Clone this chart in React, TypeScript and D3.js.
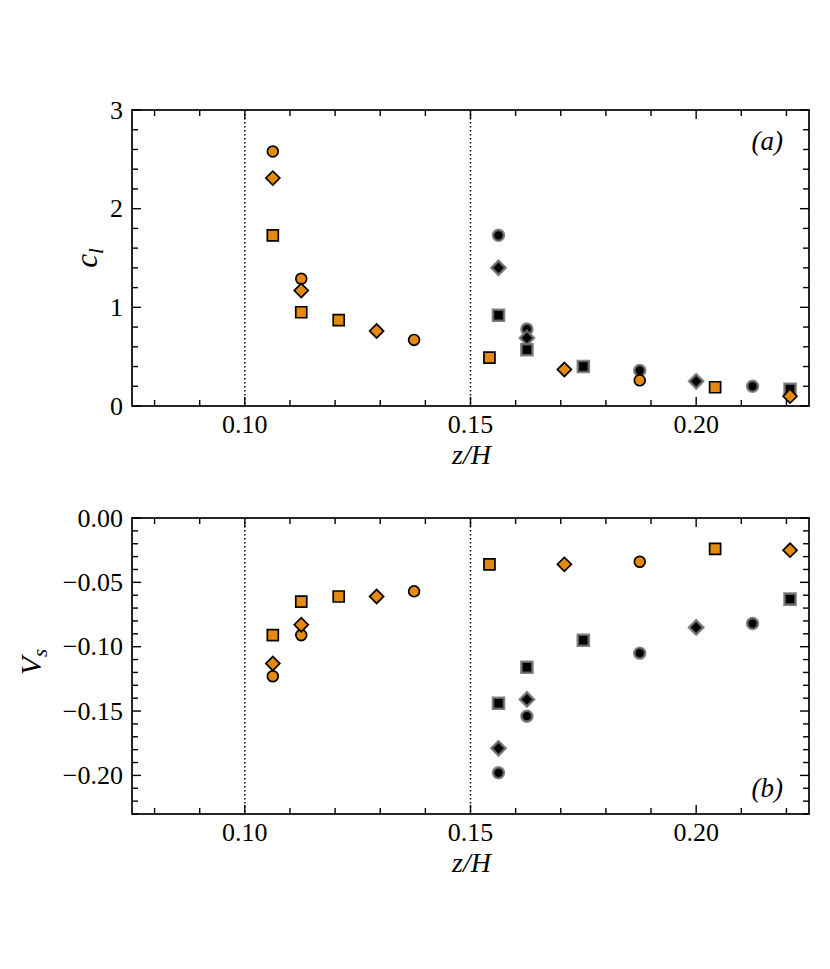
import React, { useRef, useEffect } from 'react'
import * as d3 from 'd3'

// z/H positions of each series
const orangeCircleZ = [0.1062, 0.1125, 0.1375, 0.1875]
const orangeDiamondZ = [0.1062, 0.1125, 0.1292, 0.1708, 0.2208]
const orangeSquareZ = [0.1062, 0.1125, 0.1208, 0.1542, 0.2042]
const blackCircleZ = [0.1562, 0.1625, 0.1875, 0.2125]
const blackDiamondZ = [0.1562, 0.1625, 0.2]
const blackSquareZ = [0.1562, 0.1625, 0.175, 0.2208]

// panel (a): c_l
const orangeCircleCl = [2.58, 1.29, 0.67, 0.26]
const orangeDiamondCl = [2.31, 1.17, 0.76, 0.37, 0.1]
const orangeSquareCl = [1.73, 0.95, 0.87, 0.49, 0.19]
const blackCircleCl = [1.73, 0.78, 0.36, 0.2]
const blackDiamondCl = [1.4, 0.69, 0.25]
const blackSquareCl = [0.92, 0.57, 0.4, 0.17]

// panel (b): V_s
const orangeCircleVs = [-0.123, -0.091, -0.057, -0.034]
const orangeDiamondVs = [-0.113, -0.083, -0.061, -0.036, -0.025]
const orangeSquareVs = [-0.091, -0.065, -0.061, -0.036, -0.024]
const blackCircleVs = [-0.198, -0.154, -0.105, -0.082]
const blackDiamondVs = [-0.179, -0.141, -0.085]
const blackSquareVs = [-0.144, -0.116, -0.095, -0.063]

const xTickLabels = [0.1, 0.15, 0.2]
const clTickLabels = [0, 1, 2, 3]
const vsTickLabels = [0, -0.05, -0.1, -0.15, -0.2]
const dividers = [0.1, 0.15]

type Shape = 'circle' | 'square' | 'diamond'
interface Series { z: number[]; a: number[]; b: number[]; shape: Shape; dark: boolean }

// black drawn first, orange on top
const series: Series[] = [
  { z: blackCircleZ, a: blackCircleCl, b: blackCircleVs, shape: 'circle', dark: true },
  { z: blackDiamondZ, a: blackDiamondCl, b: blackDiamondVs, shape: 'diamond', dark: true },
  { z: blackSquareZ, a: blackSquareCl, b: blackSquareVs, shape: 'square', dark: true },
  { z: orangeCircleZ, a: orangeCircleCl, b: orangeCircleVs, shape: 'circle', dark: false },
  { z: orangeDiamondZ, a: orangeDiamondCl, b: orangeDiamondVs, shape: 'diamond', dark: false },
  { z: orangeSquareZ, a: orangeSquareCl, b: orangeSquareVs, shape: 'square', dark: false },
]

const ORANGE = '#e58a0f'
const FONT = '"Liberation Serif", "Times New Roman", serif'

const App: React.FC = () => {
  const svgRef = useRef<SVGSVGElement>(null)

  useEffect(() => {
    if (!svgRef.current) return
    const svg = d3.select(svgRef.current)
    svg.selectAll('*').remove()

    const left = 132
    const right = 809

    const drawPanel = (
      top: number,
      bottom: number,
      yDomain: [number, number],
      yMajor: number[],
      yMinorStep: number,
      yFmt: (v: number) => string,
      key: 'a' | 'b',
      tag: string,
      tagY: number
    ) => {
      const x = d3.scaleLinear().domain([0.075, 0.225]).range([left, right])
      const y = d3.scaleLinear().domain(yDomain).range([bottom, top])
      const g = svg.append('g')

      // dotted dividers
      dividers.forEach(d => {
        g.append('line')
          .attr('x1', x(d)).attr('x2', x(d))
          .attr('y1', top).attr('y2', bottom)
          .attr('stroke', '#000')
          .attr('stroke-width', 1.5)
          .attr('stroke-dasharray', '1.5,2.5')
      })

      // ticks on all four sides, pointing inward
      const xMinor = d3.range(8, 23).map(v => v / 100)
      xMinor.forEach(v => {
        const major = xTickLabels.some(t => Math.abs(t - v) < 1e-9)
        const len = major ? 9 : 6
        g.append('line').attr('x1', x(v)).attr('x2', x(v))
          .attr('y1', bottom).attr('y2', bottom - len)
          .attr('stroke', '#000').attr('stroke-width', 1.4)
        g.append('line').attr('x1', x(v)).attr('x2', x(v))
          .attr('y1', top).attr('y2', top + len)
          .attr('stroke', '#000').attr('stroke-width', 1.4)
      })
      const nMinor = Math.round((yDomain[1] - yDomain[0]) / yMinorStep)
      d3.range(0, nMinor + 1).map(i => yDomain[0] + i * yMinorStep).forEach(v => {
        const major = yMajor.some(t => Math.abs(t - v) < 1e-6)
        const len = major ? 9 : 6
        g.append('line').attr('x1', left).attr('x2', left + len)
          .attr('y1', y(v)).attr('y2', y(v))
          .attr('stroke', '#000').attr('stroke-width', 1.4)
        g.append('line').attr('x1', right).attr('x2', right - len)
          .attr('y1', y(v)).attr('y2', y(v))
          .attr('stroke', '#000').attr('stroke-width', 1.4)
      })

      // frame
      g.append('rect')
        .attr('x', left).attr('y', top)
        .attr('width', right - left).attr('height', bottom - top)
        .attr('fill', 'none').attr('stroke', '#000').attr('stroke-width', 1.7)

      // tick labels
      g.selectAll('text.xt').data(xTickLabels).enter().append('text')
        .attr('x', d => x(d)).attr('y', bottom + 27)
        .attr('text-anchor', 'middle')
        .attr('font-family', FONT).attr('font-size', 26)
        .text(d => d.toFixed(2))
      g.selectAll('text.yt').data(yMajor).enter().append('text')
        .attr('x', left - 9).attr('y', d => y(d))
        .attr('dy', '0.33em')
        .attr('text-anchor', 'end')
        .attr('font-family', FONT).attr('font-size', 26)
        .text(d => yFmt(d))

      // x label
      g.append('text')
        .attr('x', (left + right) / 2 + 1).attr('y', bottom + 58)
        .attr('text-anchor', 'middle')
        .attr('font-family', FONT).attr('font-size', 28).attr('font-style', 'italic')
        .text('z/H')

      // panel tag
      g.append('text')
        .attr('x', 783).attr('y', tagY)
        .attr('text-anchor', 'end')
        .attr('font-family', FONT).attr('font-size', 27).attr('font-style', 'italic')
        .text(tag)

      // markers
      series.forEach(s => {
        const vals = key === 'a' ? s.a : s.b
        const sym = d3.symbol()
          .type(s.shape === 'circle' ? d3.symbolCircle : d3.symbolSquare)
          .size(s.shape === 'circle' ? 92 : s.shape === 'square' ? 121 : 98)
        g.selectAll(null).data(s.z.map((z, i) => ({ z, v: vals[i] }))).enter()
          .append('path')
          .attr('d', sym()!)
          .attr('transform', d => `translate(${x(d.z)},${y(d.v)})${s.shape === 'diamond' ? ' rotate(45)' : ''}`)
          .attr('fill', s.dark ? '#000' : ORANGE)
          .attr('stroke', s.dark ? 'rgba(110,110,110,0.85)' : '#000')
          .attr('stroke-width', s.dark ? 2.6 : 1.7)
      })
    }

    drawPanel(110, 406, [0, 3], clTickLabels, 0.2, d => String(d), 'a', '(a)', 150)
    drawPanel(518, 814, [-0.23, 0], vsTickLabels, 0.01,
      d => (d < 0 ? '\u2212' : '') + Math.abs(d).toFixed(2), 'b', '(b)', 797)

    // y labels
    const cl = svg.append('text')
      .attr('transform', 'translate(97,258) rotate(-90)')
      .attr('text-anchor', 'middle')
      .attr('font-family', FONT).attr('font-size', 31).attr('font-style', 'italic')
    cl.append('tspan').text('c')
    cl.append('tspan').attr('font-size', 21).attr('dy', 6).text('l')

    const vs = svg.append('text')
      .attr('transform', 'translate(41,662) rotate(-90)')
      .attr('text-anchor', 'middle')
      .attr('font-family', FONT).attr('font-size', 30).attr('font-style', 'italic')
    vs.append('tspan').text('V')
    vs.append('tspan').attr('font-size', 21).attr('dy', 6).text('s')
  }, [])

  return (
    <svg
      ref={svgRef}
      width={830}
      height={969}
      style={{ position: 'absolute', left: 0, top: 0, background: '#fff' }}
    />
  )
}

export default App
